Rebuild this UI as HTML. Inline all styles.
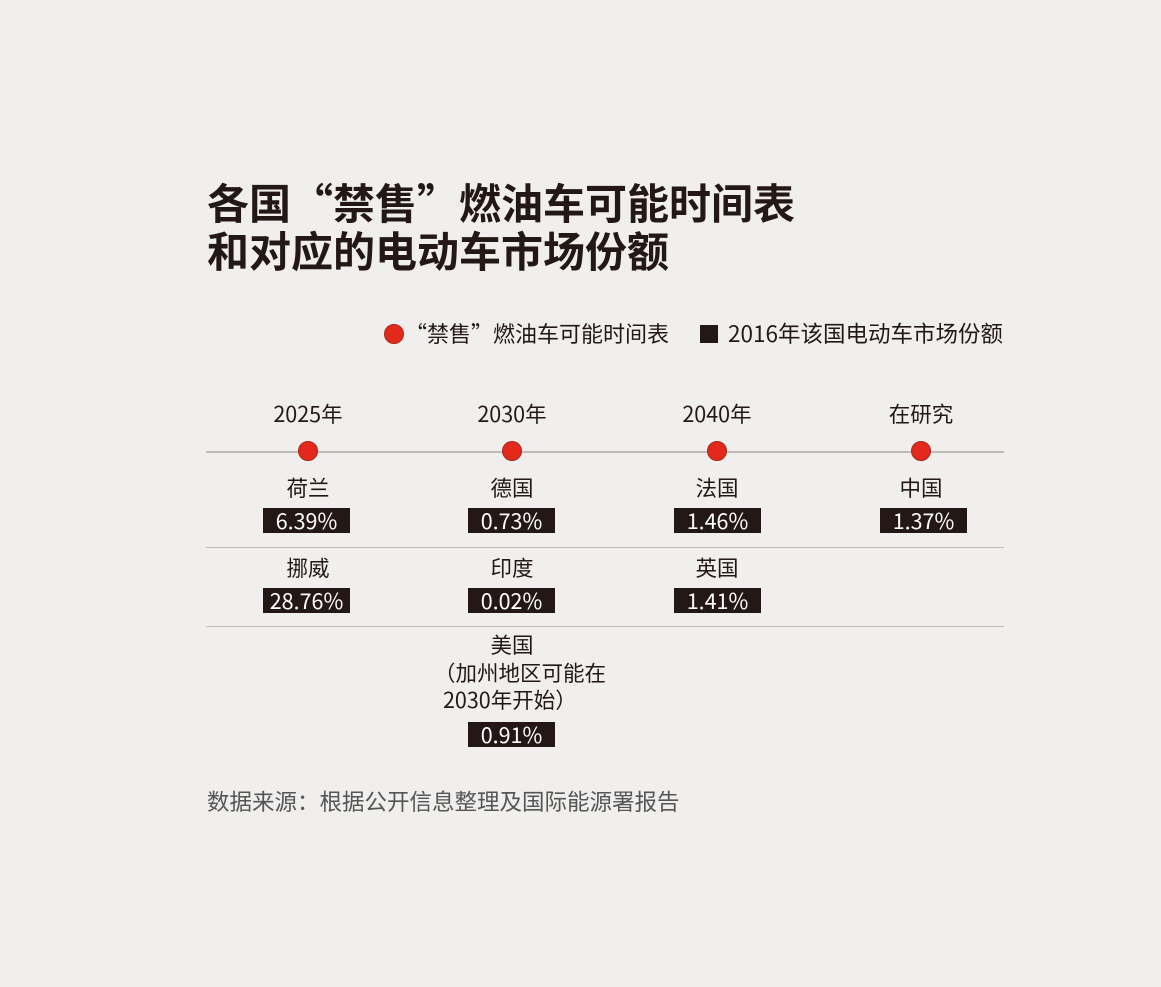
<!DOCTYPE html>
<html><head><meta charset="utf-8"><style>
body{margin:0;width:1161px;height:987px;background:#f0efed;position:relative;overflow:hidden;font-family:"Noto Sans CJK SC","Liberation Sans",sans-serif;color:#231815}
.a{position:absolute;white-space:nowrap}
.t{font-size:42px;font-weight:bold;left:207px;line-height:48px}
.c{font-size:21.5px;text-align:center;width:200px;line-height:26px}
.b{position:absolute;width:87px;height:25px;background:#231815;color:#fff;font-size:21.5px;line-height:25px;text-align:center}
.dot{position:absolute;width:18px;height:18px;border-radius:50%;background:#e3291c;border:1px solid #a8281c}
.hl{position:absolute;left:206px;width:798px;height:1px;background:#bdbbb8}
</style></head><body>
<div class="a t" style="top:178px">各国“禁售”燃油车可能时间表</div>
<div class="a t" style="top:226px">和对应的电动车市场份额</div>
<div class="dot" style="left:384px;top:324px"></div>
<div class="a" style="left:405px;top:320px;font-size:22px;line-height:26px">“禁售”燃油车可能时间表</div>
<div style="position:absolute;left:700px;top:325px;width:18px;height:18px;background:#231815"></div>
<div class="a" style="left:728px;top:320px;font-size:22.5px;line-height:26px">2016年该国电动车市场份额</div>

<div class="a c" style="left:208px;top:401px">2025年</div>
<div class="a c" style="left:412px;top:401px">2030年</div>
<div class="a c" style="left:617px;top:401px">2040年</div>
<div class="a c" style="left:821px;top:401px">在研究</div>
<div style="position:absolute;left:206px;top:451px;width:798px;height:2px;background:#bdbbb8"></div>
<div class="dot" style="left:298px;top:441px"></div>
<div class="dot" style="left:502px;top:441px"></div>
<div class="dot" style="left:707px;top:441px"></div>
<div class="dot" style="left:911px;top:441px"></div>

<div class="a c" style="left:208px;top:475px">荷兰</div>
<div class="a c" style="left:412px;top:475px">德国</div>
<div class="a c" style="left:617px;top:475px">法国</div>
<div class="a c" style="left:821px;top:475px">中国</div>
<div class="b" style="left:263px;top:508px">6.39%</div>
<div class="b" style="left:468px;top:508px">0.73%</div>
<div class="b" style="left:674px;top:508px">1.46%</div>
<div class="b" style="left:880px;top:508px">1.37%</div>
<div class="hl" style="top:547px"></div>

<div class="a c" style="left:208px;top:555px">挪威</div>
<div class="a c" style="left:412px;top:555px">印度</div>
<div class="a c" style="left:617px;top:555px">英国</div>
<div class="b" style="left:263px;top:588px">28.76%</div>
<div class="b" style="left:468px;top:588px">0.02%</div>
<div class="b" style="left:674px;top:588px">1.41%</div>
<div class="hl" style="top:626px"></div>

<div class="a c" style="left:412px;top:632px">美国</div>
<div class="a" style="left:434px;top:660px;font-size:21.5px;line-height:26px">（加州地区可能在</div>
<div class="a" style="left:443px;top:687px;font-size:21.5px;line-height:26px">2030年开始）</div>
<div class="b" style="left:468px;top:722px">0.91%</div>

<div class="a" style="left:207px;top:788px;font-size:22.5px;line-height:26px;color:#555">数据来源：根据公开信息整理及国际能源署报告</div>
</body></html>
